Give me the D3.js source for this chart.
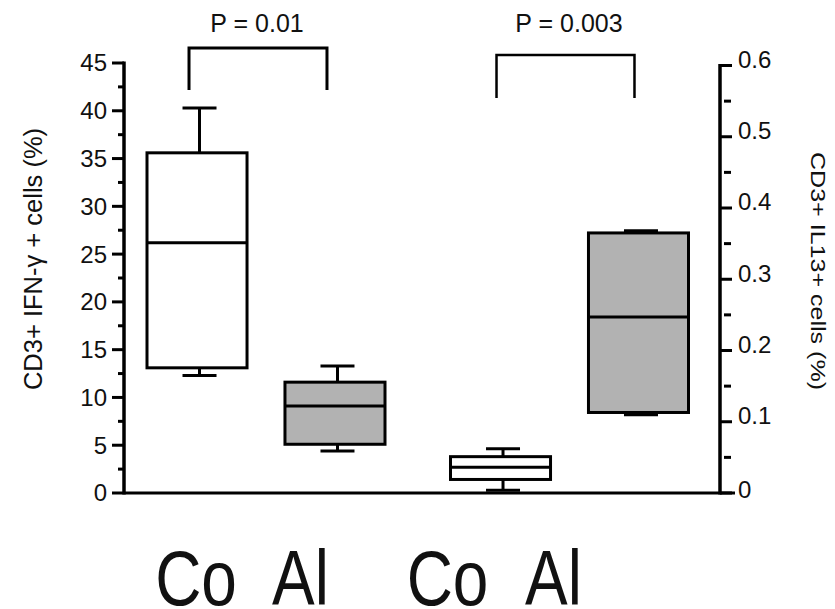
<!DOCTYPE html>
<html>
<head>
<meta charset="utf-8">
<script src="https://cdn.jsdelivr.net/npm/d3@7"></script>
<style>
  html, body { margin: 0; padding: 0; background: #fff; }
  svg { display: block; }
  text { font-family: "Liberation Sans", Arial, Helvetica, sans-serif; fill: #111; }
</style>
</head>
<body>
<svg id="chart" width="835" height="609"></svg>
<script>
// ---------------- data ----------------
const groups = ["IFN", "IL13"];
const categories = ["Co", "Al"];
// [min, q1, median, q3, max]
const ifnCo = [12.3, 13.1, 26.2, 35.6, 40.3];
const ifnAl = [4.4, 5.1, 9.1, 11.6, 13.3];
const il13Co = [0.004, 0.019, 0.036, 0.051, 0.062];
const il13Al = [0.110, 0.113, 0.247, 0.365, 0.368];
const pLabels = ["P = 0.01", "P = 0.003"];
const leftTicks = [0, 5, 10, 15, 20, 25, 30, 35, 40, 45];
const leftMinor = [2.5, 7.5, 12.5, 17.5, 22.5, 27.5, 32.5, 37.5, 42.5];
const rightTicks = [0, 0.1, 0.2, 0.3, 0.4, 0.5, 0.6];
const rightMinor = [0.05, 0.15, 0.25, 0.35, 0.45, 0.55];
const xLabels = ["Co", "Al", "Co", "Al"];
const leftTitle = "CD3+ IFN-γ + cells (%)";
const rightTitle = "CD3+ IL13+ cells (%)";

// ---------------- layout ----------------
const svg = d3.select("#chart");
svg.append("rect").attr("width", 835).attr("height", 609).attr("fill", "#fff");

const yL = d3.scaleLinear().domain([0, 45]).range([493, 63]);
const yR = d3.scaleLinear().domain([0, 0.6]).range([493, 65.5]);
const xG = d3.scaleBand().domain(groups).range([114.25, 721.25]);
const xI = d3.scaleBand().domain(categories).range([32.75, 270.75]).paddingInner(0.275);

const boxes = [
  {g: "IFN", c: "Co", v: ifnCo, y: yL, fill: "#ffffff"},
  {g: "IFN", c: "Al", v: ifnAl, y: yL, fill: "#b2b2b2"},
  {g: "IL13", c: "Co", v: il13Co, y: yR, fill: "#ffffff"},
  {g: "IL13", c: "Al", v: il13Al, y: yR, fill: "#b2b2b2"}
];

const axL = 124, axR = 720;
const sw = 3;

// left axis
const gl = svg.append("g");
gl.append("line").attr("x1", axL).attr("x2", axL).attr("y1", yL(45) - 1.5).attr("y2", yL(0) + 1.5)
  .attr("stroke", "#000").attr("stroke-width", 3.5);
gl.selectAll(".maj").data(leftTicks).join("line")
  .attr("x1", 112).attr("x2", axL).attr("y1", d => yL(d)).attr("y2", d => yL(d))
  .attr("stroke", "#000").attr("stroke-width", 3);
gl.selectAll(".min").data(leftMinor).join("line")
  .attr("x1", 118).attr("x2", axL).attr("y1", d => yL(d)).attr("y2", d => yL(d))
  .attr("stroke", "#000").attr("stroke-width", 3);
gl.selectAll("text").data(leftTicks).join("text")
  .attr("x", 107).attr("y", d => yL(d)).attr("dy", "0.35em")
  .attr("text-anchor", "end").attr("font-size", 24).attr("fill", "#222")
  .text(d => d);

// right axis
const gr = svg.append("g");
gr.append("line").attr("x1", axR).attr("x2", axR).attr("y1", yR(0.6) - 1.5).attr("y2", yR(0) + 1.5)
  .attr("stroke", "#000").attr("stroke-width", 3.5);
gr.selectAll(".maj").data(rightTicks).join("line")
  .attr("x1", axR).attr("x2", 732).attr("y1", d => yR(d)).attr("y2", d => yR(d))
  .attr("stroke", "#000").attr("stroke-width", 3);
gr.selectAll(".min").data(rightMinor).join("line")
  .attr("x1", 724).attr("x2", 731).attr("y1", d => yR(d)).attr("y2", d => yR(d))
  .attr("stroke", "#000").attr("stroke-width", 3);
gr.selectAll("text").data(rightTicks).join("text")
  .attr("x", 738).attr("y", d => yR(d)).attr("dy", d => d === 0 ? "0.2em" : "0.1em")
  .attr("text-anchor", "start").attr("font-size", 24).attr("fill", "#222")
  .text(d => d === 0 ? "0" : d3.format(".1f")(d));

// baseline
svg.append("line").attr("x1", axL).attr("x2", 735).attr("y1", yL(0)).attr("y2", yL(0))
  .attr("stroke", "#000").attr("stroke-width", 3);

// boxes
const bw = xI.bandwidth();
const capW = 34;
boxes.forEach(b => {
  const x0 = xG(b.g) + xI(b.c);
  const cx = x0 + bw / 2;
  const wx = cx + 2.5;
  const [mn, q1, md, q3, mx] = b.v;
  const g = svg.append("g");
  // whiskers
  g.append("line").attr("x1", wx).attr("x2", wx).attr("y1", b.y(mx)).attr("y2", b.y(q3))
    .attr("stroke", "#000").attr("stroke-width", sw);
  g.append("line").attr("x1", wx).attr("x2", wx).attr("y1", b.y(q1)).attr("y2", b.y(mn))
    .attr("stroke", "#000").attr("stroke-width", sw);
  g.append("line").attr("x1", wx - capW / 2).attr("x2", wx + capW / 2).attr("y1", b.y(mx)).attr("y2", b.y(mx))
    .attr("stroke", "#000").attr("stroke-width", sw);
  g.append("line").attr("x1", wx - capW / 2).attr("x2", wx + capW / 2).attr("y1", b.y(mn)).attr("y2", b.y(mn))
    .attr("stroke", "#000").attr("stroke-width", sw);
  // box
  g.append("rect").attr("x", x0).attr("y", b.y(q3)).attr("width", bw).attr("height", b.y(q1) - b.y(q3))
    .attr("fill", b.fill).attr("stroke", "#000").attr("stroke-width", sw);
  g.append("line").attr("x1", x0).attr("x2", x0 + bw).attr("y1", b.y(md)).attr("y2", b.y(md))
    .attr("stroke", "#000").attr("stroke-width", sw);
});

// significance brackets
const brackets = [
  {g: "IFN", top: 48, bottom: 90, off: -8, tx: 257, lw: 3},
  {g: "IL13", top: 55, bottom: 98, off: -4, tx: 569, lw: 2.5}
];
brackets.forEach((br, i) => {
  const xa = xG(br.g) + xI("Co") + bw / 2 + br.off;
  const xb = xG(br.g) + xI("Al") + bw / 2 + br.off;
  svg.append("path")
    .attr("d", `M${xa},${br.bottom}V${br.top}H${xb}V${br.bottom}`)
    .attr("fill", "none").attr("stroke", "#000").attr("stroke-width", br.lw)
    .attr("stroke-linejoin", "miter").attr("stroke-linecap", "butt");
  svg.append("text").attr("x", br.tx).attr("y", 32).attr("text-anchor", "middle")
    .attr("font-size", 25).text(pLabels[i]);
});

// axis titles
svg.append("text")
  .attr("transform", "translate(42,259) rotate(-90)")
  .attr("text-anchor", "middle").attr("font-size", 25.5).attr("fill", "#222")
  .text(leftTitle);
svg.append("text")
  .attr("transform", "translate(811,271) rotate(90)")
  .attr("text-anchor", "middle").attr("font-size", 21)
  .attr("textLength", 238).attr("lengthAdjust", "spacingAndGlyphs").attr("fill", "#222")
  .text(rightTitle);

// big category labels
const labelX = [196, 300.5, 447.5, 553.5];
xLabels.forEach((t, i) => {
  svg.append("text")
    .attr("transform", `translate(${labelX[i]},605) scale(0.82,1)`)
    .attr("text-anchor", "middle").attr("font-size", 78).attr("fill", "#000")
    .text(t);
});
</script>
</body>
</html>
